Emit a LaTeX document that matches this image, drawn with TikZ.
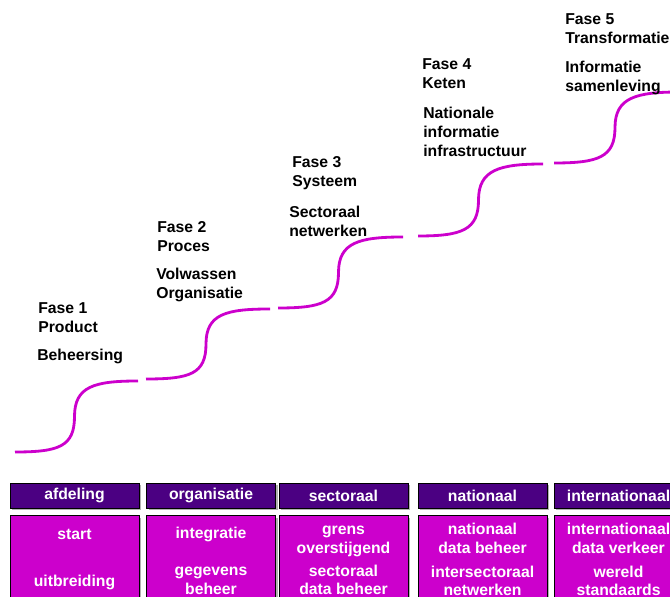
\documentclass[tikz,border=0pt]{standalone}
\usepackage{fontspec}
\setmainfont{Liberation Sans}
\usepackage{tikz}
\usetikzlibrary{positioning,shadows}
\definecolor{paars}{HTML}{CC00CC}
\definecolor{donkerpaars}{HTML}{4B0082}

\begin{document}
\begin{tikzpicture}[
    every node/.style={font=\fontsize{11.2}{13.5}\selectfont\bfseries},
    trap/.style={draw=paars, line width=2pt},
    fase/.style={anchor=west, align=left, inner sep=0pt},
    kop/.style={fill=donkerpaars, draw=black, text=white, minimum width=3.225cm, minimum height=0.625cm, inner sep=0pt,
                drop shadow={shadow xshift=0.05cm, shadow yshift=-0.05cm, fill=gray!60, opacity=1}},
    blok/.style={fill=paars, draw=black, minimum width=3.225cm, minimum height=2.6cm, anchor=north, inner sep=0pt,
                drop shadow={shadow xshift=0.05cm, shadow yshift=-0.05cm, fill=gray!60, opacity=1}},
    wit/.style={text=white, align=center, inner sep=0pt}]
  \useasboundingbox (0,0) rectangle (16.75,14.9);
  \clip (0,0) rectangle (16.75,14.9);

  % the stairs (five S-shaped steps)
  \foreach \sx/\sy/\ex/\ey in {0.375/3.6/3.45/5.375, 3.65/5.425/6.75/7.175, 6.95/7.2/10.075/8.975,
                              10.45/9.0/13.575/10.8, 13.85/10.825/17.0/12.6} {
    \draw[trap] (\sx,\sy) .. controls +(1.1,0) and +(0,-0.75) .. ({(\sx+\ex)/2-0.05},{(\sy+\ey)/2})
      .. controls +(0,0.75) and +(-1.1,0) .. (\ex,\ey);
  }

  % phases
  \node[fase] (fase1) at (0.95,6.96) {Fase 1\\Product};
  \node[fase] (doel1) at (0.925,6.0) {Beheersing};
  \node[fase] (fase2) at (3.925,8.985) {Fase 2\\Proces};
  \node[fase] (doel2) at (3.9,7.785) {Volwassen\\Organisatie};
  \node[fase] (fase3) at (7.3,10.56) {Fase 3\\Systeem};
  \node[fase] (doel3) at (7.225,9.36) {Sectoraal\\netwerken};
  \node[fase] (fase4) at (10.55,13.06) {Fase 4\\Keten};
  \node[fase] (doel4) at (10.575,11.61) {Nationale\\informatie\\infrastructuur};
  \node[fase] (fase5) at (14.125,14.175) {Fase 5\\Transformatie};
  \node[fase] (doel5) at (14.125,12.96) {Informatie\\samenleving};

  % table at the bottom
  \foreach \i/\x/\kop in {1/1.8625/afdeling, 2/5.275/organisatie, 3/8.5875/sectoraal,
                          4/12.0625/nationaal, 5/15.4625/internationaal} {
    \node[kop] (kop\i) at (\x,2.5125) {\kop};
    \node[blok, below=0.175cm of kop\i] (blok\i) {};
  }

  \node[wit] (tA1) at ([yshift=-0.47cm]blok1.north) {start};
  \node[wit] (tB1) at ([yshift=-1.69cm]blok1.north) {uitbreiding};
  \node[wit] (tA2) at ([yshift=-0.47cm]blok2.north) {integratie};
  \node[wit] (tB2) at ([yshift=-1.63cm]blok2.north) {gegevens\\beheer};
  \node[wit] (tA3) at ([yshift=-0.655cm]blok3.north) {grens\\overstijgend};
  \node[wit] (tB3) at ([yshift=-1.615cm]blok3.north) {sectoraal\\data beheer};
  \node[wit] (tA4) at ([yshift=-0.58cm]blok4.north) {nationaal\\data beheer};
  \node[wit] (tB4) at ([yshift=-1.64cm]blok4.north) {intersectoraal\\netwerken};
  \node[wit] (tA5) at ([yshift=-0.58cm]blok5.north) {internationaal\\data verkeer};
  \node[wit] (tB5) at ([yshift=-1.64cm]blok5.north) {wereld\\standaards};
\end{tikzpicture}
\end{document}
